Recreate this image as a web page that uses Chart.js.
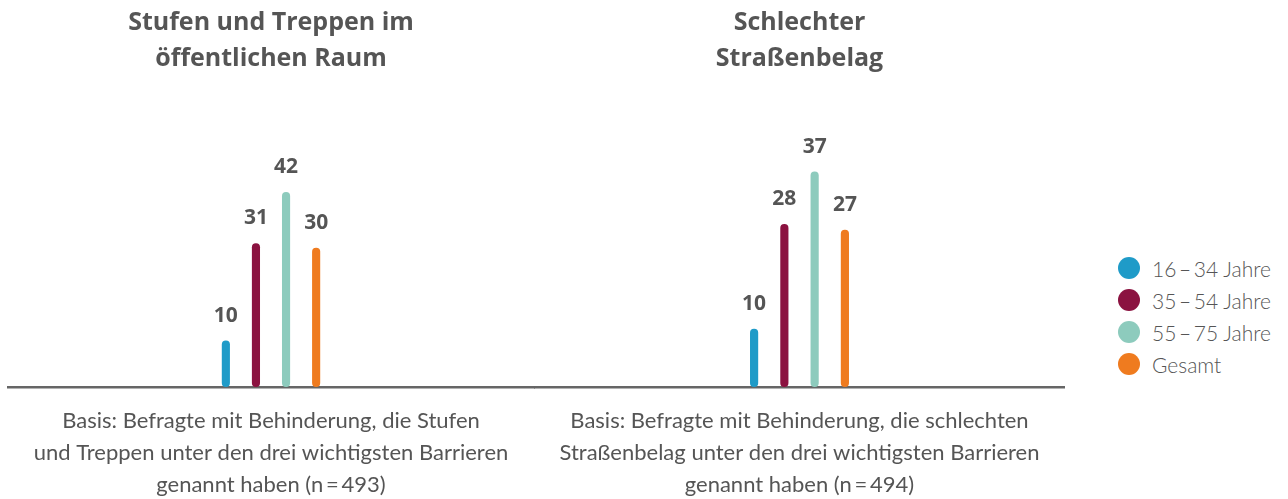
<!DOCTYPE html>
<html>
<head>
<meta charset="utf-8">
<script src="https://cdn.jsdelivr.net/npm/chart.js@4.4.1/dist/chart.umd.min.js"></script>
<style>
  body { margin: 0; background: #fff; width: 1288px; height: 499px; overflow: hidden; position: relative; font-family: Lato, sans-serif; }
  .panel { position: absolute; top: 0; height: 501px; }
  #legend { position: absolute; left: 1118px; top: 252px; list-style: none; margin: 0; padding: 0; }
  #legend li { height: 32px; display: flex; align-items: center; font-size: 21px; color: #555; font-weight: 300; }
  #legend span { display: inline-block; width: 22px; height: 22px; border-radius: 50%; margin-right: 12px; }
</style>
</head>
<body>
<div class="panel" style="left:7px;width:528px"><canvas id="chartStufen"></canvas></div>
<div class="panel" style="left:534px;width:531px"><canvas id="chartStrasse"></canvas></div>
<ul id="legend"></ul>
<script>
// series (age groups) and colors
const seriesNames = ['16\u2009–\u200934 Jahre', '35\u2009–\u200954 Jahre', '55\u2009–\u200975 Jahre', 'Gesamt'];
const seriesColors = ['#1f9bc8', '#8b1240', '#8dcbbd', '#ef7b1f'];

// panel 1
const stufenTitle = ['Stufen und Treppen im', 'öffentlichen Raum'];
const stufenValues = [10, 31, 42, 30];
const stufenNote = ['Basis: Befragte mit Behinderung, die Stufen', 'und Treppen unter den drei wichtigsten Barrieren', 'genannt haben (n\u2009=\u2009493)'];

// panel 2
const strasseTitle = ['Schlechter', 'Straßenbelag'];
const strasseValues = [10, 28, 37, 27];
const strasseNote = ['Basis: Befragte mit Behinderung, die schlechten', 'Straßenbelag unter den drei wichtigsten Barrieren', 'genannt haben (n\u2009=\u2009494)'];

const textColor = '#555';

// value labels above the bars
const valueLabels = {
    id: 'valueLabels',
    afterDatasetsDraw(chart) {
        const ctx = chart.ctx;
        ctx.save();
        ctx.font = 'bold 21px "Open Sans"';
        ctx.fillStyle = textColor;
        ctx.textAlign = 'center';
        ctx.textBaseline = 'middle';
        chart.data.datasets.forEach((ds, i) => {
            chart.getDatasetMeta(i).data.forEach((bar, j) => {
                ctx.fillText(ds.data[j], bar.x, bar.y - 25);
            });
        });
        ctx.restore();
    }
};

function makePanel(id, title, values, note, yMax) {
    return new Chart(document.getElementById(id), {
        type: 'bar',
        data: {
            labels: [title.join(' ')],
            datasets: seriesNames.map((name, i) => ({
                label: name,
                data: [values[i]],
                backgroundColor: seriesColors[i],
                borderRadius: 4,
                borderSkipped: false
            }))
        },
        options: {
            responsive: true,
            maintainAspectRatio: false,
            animation: false,
            categoryPercentage: 0.228,
            barPercentage: 0.27,
            layout: { padding: 0 },
            scales: {
                x: {
                    grid: { display: false, drawTicks: false },
                    ticks: { display: false },
                    border: { color: '#666', width: 2.5 }
                },
                y: { display: false, min: 0, max: yMax }
            },
            plugins: {
                legend: { display: false },
                tooltip: { enabled: false },
                title: {
                    display: true,
                    text: title,
                    color: textColor,
                    font: { family: 'Open Sans', size: 25, weight: 'bold', lineHeight: 36 / 25 },
                    padding: { top: 5, bottom: 13 }
                },
                subtitle: {
                    display: true,
                    position: 'bottom',
                    text: note,
                    color: textColor,
                    font: { family: 'Lato', size: 22, weight: 'normal', lineHeight: 32 / 22 },
                    padding: { top: 18, bottom: 0 }
                }
            }
        },
        plugins: [valueLabels]
    });
}

const chart1 = makePanel('chartStufen', stufenTitle, stufenValues, stufenNote, 64);
makePanel('chartStrasse', strasseTitle, strasseValues, strasseNote, 51);

// html legend built from the chart's legend items
const legendEl = document.getElementById('legend');
chart1.options.plugins.legend.labels.generateLabels(chart1).forEach(item => {
    const li = document.createElement('li');
    const dot = document.createElement('span');
    dot.style.background = item.fillStyle;
    li.appendChild(dot);
    li.appendChild(document.createTextNode(item.text));
    legendEl.appendChild(li);
});
</script>
</body>
</html>
